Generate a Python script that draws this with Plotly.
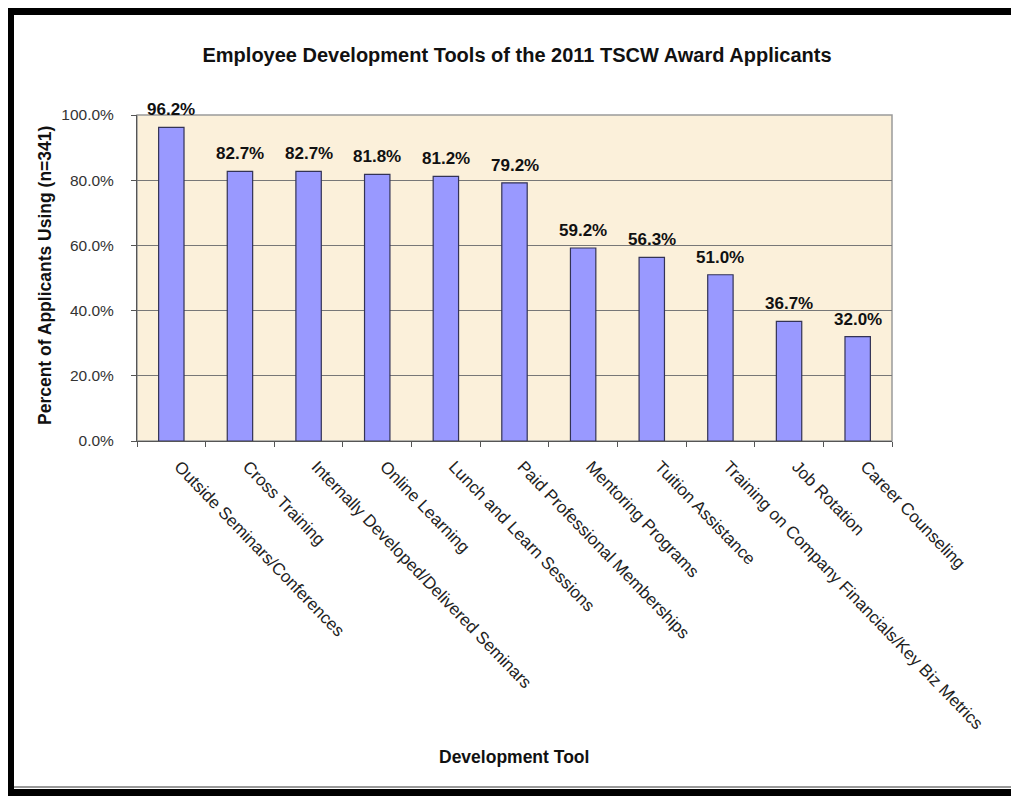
import plotly.graph_objects as go

categories = [
    "Outside Seminars/Conferences",
    "Cross Training",
    "Internally Developed/Delivered Seminars",
    "Online Learning",
    "Lunch and Learn Sessions",
    "Paid Professional Memberships",
    "Mentoring Programs",
    "Tuition Assistance",
    "Training on Company Financials/Key Biz Metrics",
    "Job Rotation",
    "Career Counseling",
]
values = [96.2, 82.7, 82.7, 81.8, 81.2, 79.2, 59.2, 56.3, 51.0, 36.7, 32.0]
y_ticks = [0, 20, 40, 60, 80, 100]

W, H = 1019, 796
OFF = 8  # page body margin
# plot area in page pixels
PL, PR, PT, PB = 137, 892, 115, 441
L, R, T, B = PL - OFF, PR - OFF, PT - OFF, PB - OFF


def px(x):
    return (x - PL) / (PR - PL)


def py(y):
    return (PB - y) / (PB - PT)


FONT = "Liberation Sans, Arial, sans-serif"

fig = go.Figure(
    go.Bar(
        x=categories,
        y=values,
        marker=dict(color="#9999FF", line=dict(color="#333355", width=1.2)),
        cliponaxis=False,
        width=0.37,
    )
)

annotations = [
    dict(x=c, y=v, xref="x", yref="y", text=f"<b>{v:.1f}%</b>", showarrow=False,
         yanchor="bottom", yshift=6,
         font=dict(size=17, family=FONT, color="#111111"))
    for c, v in zip(categories, values)
]
annotations += [
    dict(text="<b>Percent of Applicants Using (n=341)</b>", xref="paper", yref="paper",
         x=px(45), y=py(276), xanchor="center", yanchor="middle", textangle=-90,
         showarrow=False, font=dict(size=17.5, family=FONT, color="#111111")),
    dict(text="<b>Development Tool</b>", xref="paper", yref="paper",
         x=px(514), y=py(757), xanchor="center", yanchor="middle", showarrow=False,
         font=dict(size=17.5, family=FONT, color="#111111")),
]

shapes = []
for (x0, x1, y0, y1) in [(3, W + 20, 4, 15), (3, 14, 4, H + 20), (3, W + 20, 789, H + 20)]:
    shapes.append(dict(type="rect", xref="paper", yref="paper",
                       x0=px(x0), x1=px(x1), y0=py(y0), y1=py(y1),
                       fillcolor="black", line=dict(width=0), layer="above"))
shapes.append(dict(type="line", xref="paper", yref="paper",
                   x0=px(14), x1=px(W + 20), y0=py(787), y1=py(787),
                   line=dict(color="#999999", width=2)))
shapes.append(dict(type="rect", xref="paper", yref="paper", x0=0, x1=1, y0=0, y1=1,
                   line=dict(color="#9a9a9a", width=1.5), layer="below"))

fig.update_layout(
    width=W, height=H,
    margin=dict(l=L, r=W - R, t=T, b=H - B),
    paper_bgcolor="white",
    plot_bgcolor="#FBF0DA",
    font=dict(family=FONT, color="#222222"),
    showlegend=False,
    title=dict(text="<b>Employee Development Tools of the 2011 TSCW Award Applicants</b>",
               x=(517 - OFF) / W, xanchor="center", y=1 - (55 - OFF) / H, yanchor="middle",
               font=dict(size=20, family=FONT, color="#111111")),
    shapes=shapes,
    annotations=annotations,
)

fig.update_xaxes(
    type="category",
    tickangle=46,
    tickson="boundaries",
    ticks="outside", ticklen=5, tickcolor="#555555",
    showline=True, linecolor="#555555", linewidth=1,
    tickfont=dict(size=17, family=FONT, color="#222222"),
    ticklabelstandoff=8,
    ticklabelshift=8,
    showgrid=False,
)
fig.update_yaxes(
    range=[0, 100],
    tickvals=y_ticks,
    ticktext=[f"{v:.1f}%" for v in y_ticks],
    ticks="outside", ticklen=5, tickcolor="#555555",
    showline=True, linecolor="#555555", linewidth=1,
    showgrid=True, gridcolor="#777777", gridwidth=1.3,
    tickfont=dict(size=15.5, family=FONT, color="#333333"),
    ticklabelstandoff=14,
    zeroline=False,
)

fig.write_html("out.html")
